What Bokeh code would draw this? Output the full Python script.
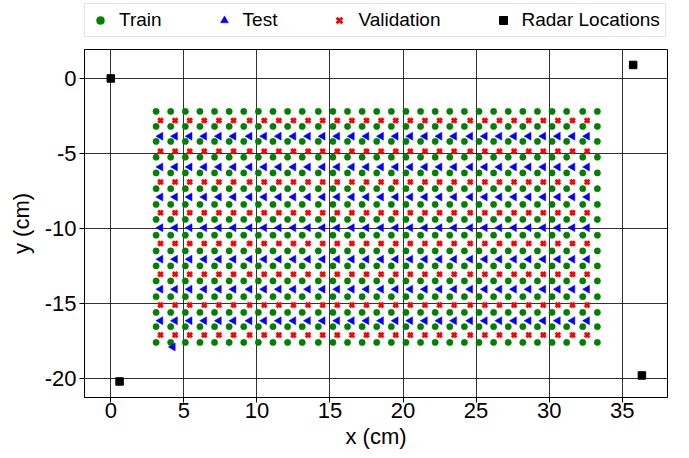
import math
from bokeh.plotting import figure
from bokeh.layouts import column
from bokeh.models import Legend, LegendItem, Range1d, FixedTicker
from bokeh.embed import file_html
from bokeh.resources import INLINE

# ---- data ----
train_cols = [3.1, 4.1, 5.1, 6.1, 7.1, 8.1, 9.1, 10.1, 11.1, 12.1, 13.1, 14.2, 15.2, 16.2,
              17.2, 18.2, 19.2, 20.2, 21.2, 22.2, 23.2, 24.2, 25.2, 26.2, 27.2, 28.2, 29.2,
              30.2, 31.2, 32.3, 33.3]
train_rows = [-2.2, -3.2, -4.2, -5.25, -6.3, -7.35, -8.4, -9.4, -10.45, -11.5, -12.5,
              -13.5, -14.55, -15.6, -16.55, -17.6]
split_cols = [3.4, 4.4, 5.4, 6.4, 7.4, 8.4, 9.5, 10.5, 11.5, 12.5, 13.5, 14.5, 15.5, 16.5,
              17.5, 18.5, 19.5, 20.5, 21.5, 22.5, 23.5, 24.6, 25.6, 26.6, 27.6, 28.6, 29.6,
              30.6, 31.6, 32.6]
val_rows = [-2.8, -4.85, -6.9, -8.95, -11.0, -13.05, -15.1, -17.1]
test_rows = [-3.85, -5.9, -7.9, -9.95, -12.05, -14.05, -16.15]
test_extra_x = [4.25]
test_extra_y = [-17.9]
radar_x = [0.0, 0.6, 35.75, 36.35]
radar_y = [0.0, -20.2, 0.9, -19.8]
x_ticks = [0, 5, 10, 15, 20, 25, 30, 35]
y_ticks = [0, -5, -10, -15, -20]
legend_labels = ["Train", "Test", "Validation", "Radar Locations"]

# ---- build point tables from the lattice rows/columns ----
train_x = [x for y in train_rows for x in train_cols]
train_y = [y for y in train_rows for x in train_cols]
val_x = [x for y in val_rows for x in split_cols]
val_y = [y for y in val_rows for x in split_cols]
test_x = [x for y in test_rows for x in split_cols] + test_extra_x
test_y = [y for y in test_rows for x in split_cols] + test_extra_y

FONT = "Liberation Sans"
FRAME_W, FRAME_H = 583, 348

STYLES = [
    dict(marker="circle", size=6.3, fill_color="#008000", line_color="#008000", line_width=0.5),
    dict(marker="triangle", size=8, angle=math.pi / 2, fill_color="#0000ff",
         line_color="#0000ff", line_width=0.5),
    dict(marker="x", size=6.5, line_color="#ff0000", line_width=2.9),
    dict(marker="square", size=7.5, fill_color="black", line_color="black"),
]
SERIES = [(train_x, train_y), (test_x, test_y), (val_x, val_y), (radar_x, radar_y)]

# ---- main plot ----
p = figure(frame_width=FRAME_W, frame_height=FRAME_H, output_backend="svg",
           toolbar_location=None,
           x_range=Range1d(-1.8, 38.1), y_range=Range1d(-21.27, 1.93),
           min_border_left=84, min_border_right=21, min_border_top=8, min_border_bottom=0)

p.background_fill_color = "white"
p.border_fill_color = "white"
p.outline_line_color = "black"
p.outline_line_width = 1

for ax in (p.xaxis[0], p.yaxis[0]):
    ax.axis_line_color = "black"
    ax.major_tick_line_color = "black"
    ax.major_tick_in = 0
    ax.major_tick_out = 5
    ax.minor_tick_line_color = None
    ax.major_label_text_font = FONT
    ax.axis_label_text_font = FONT
    ax.axis_label_text_font_style = "normal"
    ax.axis_label_text_color = "black"
    ax.major_label_text_color = "black"

p.xaxis.ticker = FixedTicker(ticks=x_ticks)
p.yaxis.ticker = FixedTicker(ticks=y_ticks)
p.xaxis.major_label_overrides = {t: str(t) for t in x_ticks}
p.yaxis.major_label_overrides = {t: str(t) for t in y_ticks}
p.xaxis.axis_label = "x (cm)"
p.yaxis.axis_label = "y (cm)"
p.xaxis.major_label_text_font_size = "22px"
p.yaxis.major_label_text_font_size = "22px"
p.xaxis.axis_label_text_font_size = "22px"
p.yaxis.axis_label_text_font_size = "22px"
p.xaxis.major_label_standoff = 0
p.yaxis.major_label_standoff = 3
p.xaxis.axis_label_standoff = 3
p.yaxis.axis_label_standoff = 8

p.xgrid.grid_line_color = "black"
p.ygrid.grid_line_color = "black"
p.xgrid.grid_line_alpha = 0.8
p.ygrid.grid_line_alpha = 0.8
p.xgrid.grid_line_width = 1
p.ygrid.grid_line_width = 1

for (sx, sy), st in zip(SERIES, STYLES):
    p.scatter(sx, sy, **st)

# ---- legend strip above the plot (same series, legend only) ----
lf = figure(width=FRAME_W + 84 + 21, height=41, output_backend="svg", toolbar_location=None,
            x_axis_type=None, y_axis_type=None,
            x_range=Range1d(100, 101), y_range=Range1d(100, 101),
            min_border_left=0, min_border_right=0, min_border_top=0, min_border_bottom=0)
lf.outline_line_color = None
lf.background_fill_color = "white"
lf.border_fill_color = "white"
items = []
for (sx, sy), st, lab in zip(SERIES, STYLES, legend_labels):
    r = lf.scatter(sx, sy, **st)
    items.append(LegendItem(label=lab, renderers=[r]))

legend = Legend(items=items, orientation="horizontal", location=(0, 4))
legend.glyph_width = 20
legend.glyph_height = 20
legend.label_standoff = 9
legend.spacing = 52
legend.padding = 5
legend.margin = 0
legend.label_text_font = FONT
legend.label_text_font_size = "19px"
legend.label_text_color = "black"
legend.border_line_color = "#cccccc"
legend.border_line_width = 1
legend.background_fill_color = "white"
legend.background_fill_alpha = 1.0
lf.add_layout(legend, "center")

layout = column(lf, p, spacing=0)
open("out.html", "w").write(file_html(layout, INLINE))
